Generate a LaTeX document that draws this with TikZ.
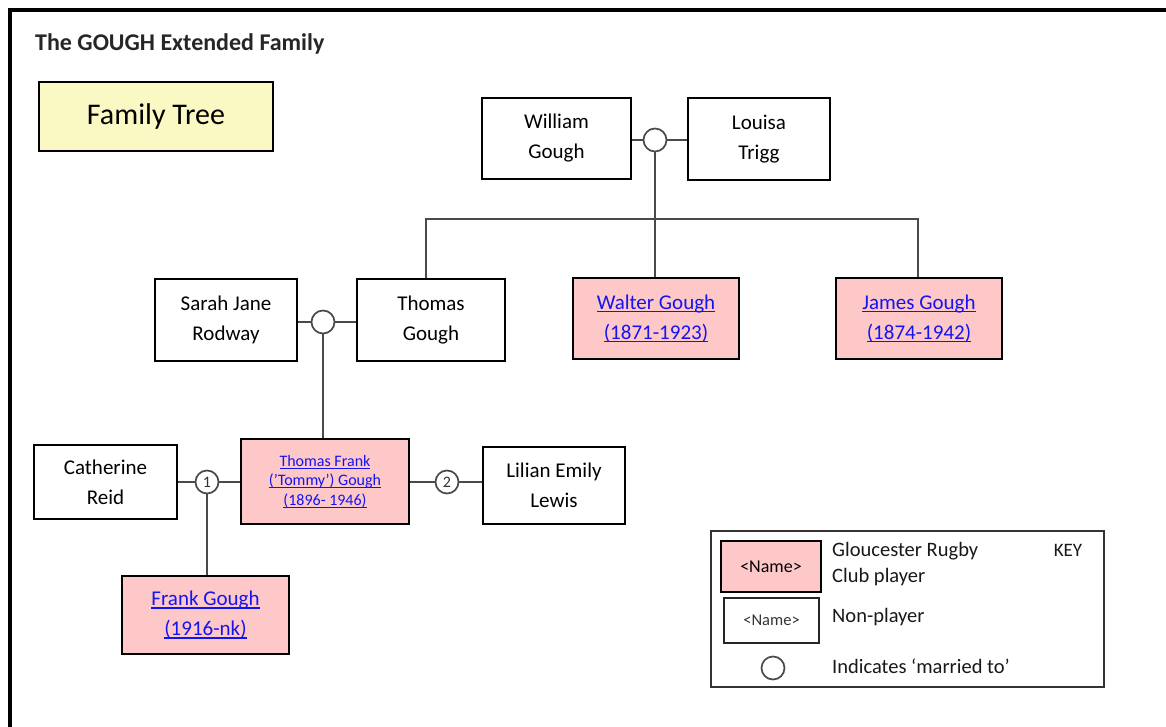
\documentclass[tikz,border=0pt]{standalone}
\usepackage{fontspec}
\setmainfont{Carlito}
\definecolor{pinkfill}{HTML}{FFC8C8}
\definecolor{yellowfill}{HTML}{FAF9C4}
\definecolor{linkblue}{HTML}{1414F0}
\definecolor{linegray}{HTML}{4A4A4A}
\newsavebox\lkbox
\newcommand\lk[1]{\leavevmode\sbox\lkbox{#1}\rlap{\rule[-2.8pt]{\wd\lkbox}{1.3pt}}\usebox\lkbox}
\tikzset{
  x=1pt, y=-1pt,
  person/.style={draw=black, line width=2pt, fill=white, align=center, inner sep=0pt,
    font=\fontsize{21}{30}\selectfont},
  player/.style={person, fill=pinkfill, text=linkblue},
  marry/.style={circle, draw=linegray, line width=1.7pt, fill=white, minimum size=23pt, inner sep=0pt,
    font=\fontsize{16}{16}\selectfont, text=black!80},
  link/.style={draw=linegray, line width=2pt},
}
\begin{document}
\begin{tikzpicture}
\useasboundingbox (0,0) rectangle (1166,727);
\fill[white] (0,0) rectangle (1166,727);
% outer frame
\draw[line width=4pt, black] (10,727) -- (10,10) -- (1166,10);

% title
\node[anchor=west, inner sep=0pt, font=\fontsize{24}{24}\selectfont\bfseries, text=black!85] (title) at (35,44) {The GOUGH Extended Family};
\node[draw=black, line width=2pt, fill=yellowfill, minimum width=234pt, minimum height=69pt, inner sep=0pt,
  font=\fontsize{30}{30}\selectfont] (ft) at (156,116.5) {Family Tree};

% generation 1
\node[person, minimum width=149pt, minimum height=81pt] (william) at (556.5,138.5) {William\\Gough};
\node[person, minimum width=142pt, minimum height=82pt] (louisa) at (759,139) {Louisa\\Trigg};
\node[marry] (m1) at (655,140) {};

% generation 2
\node[person, minimum width=142pt, minimum height=82pt] (sarah) at (226,320) {Sarah Jane\\Rodway};
\node[person, minimum width=148pt, minimum height=82pt] (thomas) at (431,320) {Thomas\\Gough};
\node[marry] (m2) at (323,322) {};
\node[player, minimum width=166pt, minimum height=81pt] (walter) at (656,318.5) {\lk{Walter Gough}\\\lk{(1871-1923)}};
\node[player, minimum width=166pt, minimum height=81pt] (james) at (919,318.5) {\lk{James Gough}\\\lk{(1874-1942)}};

% generation 3
\node[person, minimum width=143pt, minimum height=74pt] (catherine) at (105.5,482) {Catherine\\Reid};
\node[player, minimum width=168pt, minimum height=85pt, font=\fontsize{16}{19.5}\selectfont] (tommy) at (325,481.5)
  {\lk{Thomas Frank}\\\lk{('Tommy') Gough}\\\lk{(1896- 1946)}};
\node[person, minimum width=142pt, minimum height=77pt] (lilian) at (554,485.5) {Lilian Emily\\Lewis};
\node[marry] (m3) at (207,482) {1};
\node[marry] (m4) at (447,482) {2};

% generation 4
\node[player, minimum width=167pt, minimum height=78pt] (frank) at (205.5,615) {\lk{Frank Gough}\\\lk{(1916-nk)}};

% connectors
\draw[link] (william.east |- m1.west) -- (m1.west);
\draw[link] (m1.east) -- (m1.east -| louisa.west);
\draw[link] (m1.south) -- (m1.south |- walter.north);
\coordinate (barL) at (426,219);
\coordinate (barR) at (918,219);
\draw[link] (barL |- thomas.north) -- (barL) -- (barR) -- (barR |- james.north);

\draw[link] (sarah.east |- m2.west) -- (m2.west);
\draw[link] (m2.east) -- (m2.east -| thomas.west);
\draw[link] (m2.south) -- (m2.south |- tommy.north);

\draw[link] (catherine.east |- m3.west) -- (m3.west);
\draw[link] (m3.east) -- (m3.east -| tommy.west);
\draw[link] (m3.south) -- (m3.south |- frank.north);
\draw[link] (tommy.east |- m4.west) -- (m4.west);
\draw[link] (m4.east) -- (m4.east -| lilian.west);

% key
\node[draw=black!80, line width=1.6pt, minimum width=393pt, minimum height=156pt, inner sep=0pt] (key) at (907.5,609) {};
\node[draw=black, line width=2pt, fill=pinkfill, minimum width=100pt, minimum height=51pt, inner sep=0pt,
  font=\fontsize{18}{18}\selectfont] (kp) at (771,566.5) {<Name>};
\node[draw=black!85, line width=1.6pt, fill=white, minimum width=95pt, minimum height=45pt, inner sep=0pt,
  font=\fontsize{16.5}{16.5}\selectfont, text=black!80] (kn) at (771.5,620.5) {<Name>};
\node[circle, draw=linegray, line width=1.7pt, minimum size=23pt, inner sep=0pt] (kc) at (773,668) {};
\node[anchor=west, align=left, inner sep=0pt, font=\fontsize{20.5}{26}\selectfont, text=black!90] (kt1) at (832,564) {Gloucester Rugby\\Club player};
\node[anchor=west, inner sep=0pt, font=\fontsize{20.5}{20.5}\selectfont, text=black!90] (kt2) at (832,617) {Non-player};
\node[anchor=west, inner sep=0pt, font=\fontsize{20.5}{20.5}\selectfont, text=black!90] (kt3) at (832,666) {Indicates ‘married to’};
\node[inner sep=0pt, font=\fontsize{19}{19}\selectfont, text=black!90] (kkey) at (1068,550) {KEY};
\end{tikzpicture}
\end{document}
